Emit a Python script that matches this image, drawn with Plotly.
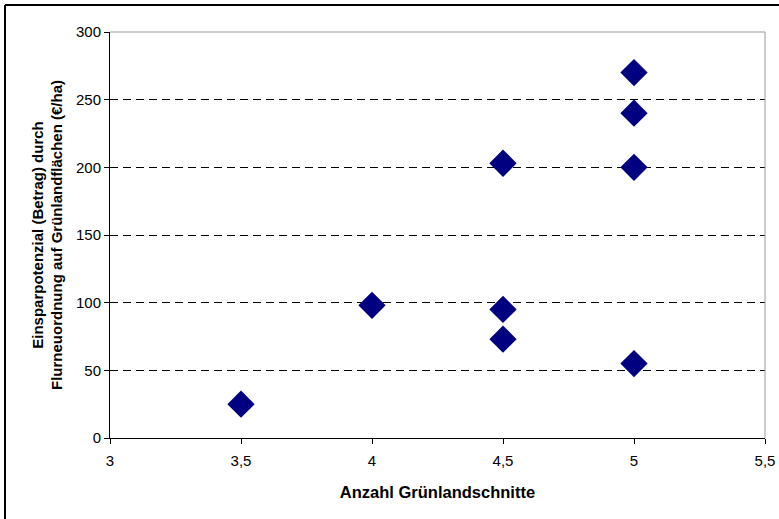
import plotly.graph_objects as go

x_cuts = [3.5, 4, 4.5, 4.5, 4.5, 5, 5, 5, 5]
y_savings = [25, 98, 203, 95, 73, 270, 240, 200, 55]

x_title = "<b>Anzahl Grünlandschnitte</b>"
y_title = "<b>Einsparpotenzial (Betrag) durch<br>Flurneuordnung auf Grünlandflächen (€/ha)</b>"

W, H = 779, 519
L, R, T, B = 110, 14, 32, 81
pw, ph = W - L - R, H - T - B

fig = go.Figure(go.Scatter(
    x=x_cuts, y=y_savings, mode="markers",
    marker=dict(symbol="diamond", size=21, color="#000080", line=dict(width=0)),
    showlegend=False, cliponaxis=False))

font = dict(family="Liberation Sans, Arial, sans-serif", size=15, color="black")
fig.update_layout(
    width=W, height=H, margin=dict(l=L, r=R, t=T, b=B, autoexpand=False),
    paper_bgcolor="white", plot_bgcolor="white", font=font,
    separators=", ",
    xaxis=dict(range=[3, 5.5], dtick=0.5, tick0=3, showgrid=False, zeroline=False,
               showline=True, linecolor="black", linewidth=1, automargin=False,
               ticks="outside", ticklen=5, tickcolor="black", ticklabelstandoff=4,
               tickfont=dict(size=15), title=dict(text=x_title, font=dict(size=16.5), standoff=18)),
    yaxis=dict(range=[0, 300], dtick=50, showgrid=True, gridcolor="black", gridwidth=1,
               griddash="8px,5px", zeroline=False, automargin=False,
               showline=True, linecolor="black", linewidth=1,
               ticks="outside", ticklen=5, tickcolor="black",
               tickfont=dict(size=15), title=dict(text=y_title, font=dict(size=15), standoff=9)),
)

# gray top and right frame of plot area
fig.add_shape(type="line", xref="paper", yref="paper", x0=0, x1=1, y0=1, y1=1,
              line=dict(color="#999999", width=1))
fig.add_shape(type="line", xref="paper", yref="paper", x0=1, x1=1, y0=0, y1=1,
              line=dict(color="#999999", width=1))
# outer chart border (only top and left edges visible)
bx = (5 - L) / pw
by = (H - B - 5) / ph
fig.add_shape(type="line", xref="paper", yref="paper", x0=bx, x1=(W + 20 - L) / pw, y0=by, y1=by,
              line=dict(color="black", width=2), layer="below")
fig.add_shape(type="line", xref="paper", yref="paper", x0=bx, x1=bx, y0=by, y1=-(B + 20) / ph,
              line=dict(color="black", width=2), layer="below")

fig.write_html("out.html")
